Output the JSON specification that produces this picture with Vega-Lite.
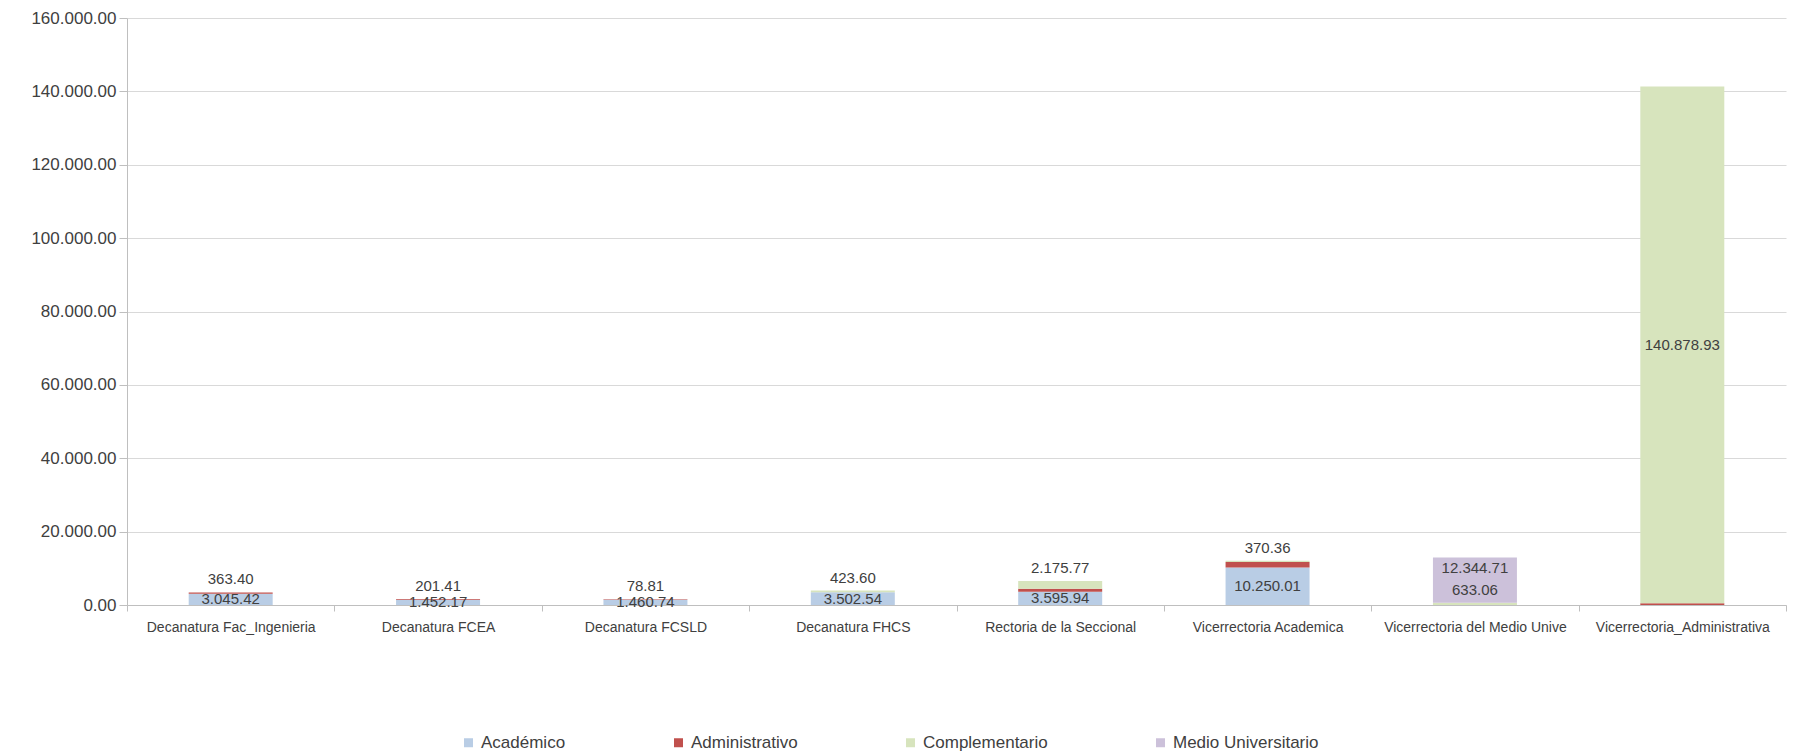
{
  "$schema": "https://vega.github.io/schema/vega-lite/v6.json",
  "width": 1659,
  "height": 587,
  "autosize": {"type": "none"},
  "padding": {"left": 127, "top": 18, "right": 13, "bottom": 148},
  "config": {
    "locale": {"number": {"decimal": ".", "thousands": ".", "grouping": [3], "currency": ["", ""]}},
    "view": {"stroke": null},
    "font": "Liberation Sans"
  },
  "data": {
    "values": [
      {"category": "Decanatura Fac_Ingenieria", "series": "Académico", "value": 3045.42},
      {"category": "Decanatura Fac_Ingenieria", "series": "Administrativo", "value": 363.40},
      {"category": "Decanatura FCEA", "series": "Académico", "value": 1452.17},
      {"category": "Decanatura FCEA", "series": "Administrativo", "value": 201.41},
      {"category": "Decanatura FCSLD", "series": "Académico", "value": 1460.74},
      {"category": "Decanatura FCSLD", "series": "Administrativo", "value": 78.81},
      {"category": "Decanatura FHCS", "series": "Académico", "value": 3502.54},
      {"category": "Decanatura FHCS", "series": "Complementario", "value": 423.60},
      {"category": "Rectoria de la Seccional", "series": "Académico", "value": 3595.94},
      {"category": "Rectoria de la Seccional", "series": "Administrativo", "value": 800},
      {"category": "Rectoria de la Seccional", "series": "Complementario", "value": 2175.77},
      {"category": "Vicerrectoria Academica", "series": "Académico", "value": 10250.01},
      {"category": "Vicerrectoria Academica", "series": "Administrativo", "value": 1450},
      {"category": "Vicerrectoria Academica", "series": "Complementario", "value": 370.36},
      {"category": "Vicerrectoria del Medio Unive", "series": "Complementario", "value": 633.06},
      {"category": "Vicerrectoria del Medio Unive", "series": "Medio Universitario", "value": 12344.71},
      {"category": "Vicerrectoria_Administrativa", "series": "Administrativo", "value": 450},
      {"category": "Vicerrectoria_Administrativa", "series": "Complementario", "value": 140878.93}
    ]
  },
  "transform": [
    {"stack": "value", "groupby": ["category"], "sort": [{"field": "series"}], "as": ["y0", "y1"]},
    {"calculate": "(datum.y0 + datum.y1) / 2", "as": "ymid"}
  ],
  "encoding": {
    "x": {
      "field": "category",
      "type": "nominal",
      "sort": null,
      "title": null,
      "scale": {"paddingInner": 0, "paddingOuter": 0},
      "axis": {
        "labelAngle": 0,
        "labelFontSize": 14,
        "labelColor": "#404040",
        "labelPadding": 9,
        "tickBand": "extent",
        "tickSize": 6,
        "tickColor": "#BFBFBF",
        "domainColor": "#BFBFBF",
        "grid": false,
        "labelLimit": 300
      }
    }
  },
  "layer": [
    {
      "mark": {"type": "bar", "width": {"band": 0.405}},
      "encoding": {
        "y": {
          "field": "y0",
          "type": "quantitative",
          "title": null,
          "scale": {"domain": [0, 160000], "nice": false},
          "axis": {
            "values": [0, 20000, 40000, 60000, 80000, 100000, 120000, 140000, 160000],
            "format": ",.2f",
            "labelFontSize": 17,
            "labelColor": "#404040",
            "labelPadding": 3,
            "tickSize": 8,
            "tickColor": "#BFBFBF",
            "domainColor": "#BFBFBF",
            "gridColor": "#D9D9D9"
          }
        },
        "y2": {"field": "y1"},
        "color": {
          "field": "series",
          "type": "nominal",
          "scale": {
            "domain": ["Académico", "Administrativo", "Complementario", "Medio Universitario"],
            "range": ["#B9CDE5", "#C0504D", "#D7E4BD", "#CCC1DA"]
          },
          "legend": {
            "title": null,
            "orient": "none",
            "legendX": 333,
            "legendY": 716,
            "direction": "horizontal",
            "symbolType": "square",
            "symbolSize": 81,
            "symbolStrokeWidth": 0,
            "labelFontSize": 17,
            "labelColor": "#404040",
            "columnPadding": 104,
            "labelOffset": 4
          }
        }
      }
    },
    {
      "transform": [{"filter": "datum.series == 'Académico' || datum.value > 100000"}],
      "mark": {"type": "text", "fontSize": 15, "color": "#404040", "baseline": "middle"},
      "encoding": {
        "y": {"field": "ymid", "type": "quantitative", "title": null},
        "text": {"field": "value", "type": "quantitative", "format": ",.2f"}
      }
    },
    {
      "transform": [{"filter": "(datum.series == 'Administrativo' && datum.value < 400) || (datum.series == 'Complementario' && datum.value < 100000)"}],
      "mark": {"type": "text", "fontSize": 15, "color": "#404040", "baseline": "middle", "dy": -13},
      "encoding": {
        "y": {"field": "y1", "type": "quantitative", "title": null},
        "text": {"field": "value", "type": "quantitative", "format": ",.2f"}
      }
    },
    {
      "transform": [{"filter": "datum.series == 'Medio Universitario'"}],
      "mark": {"type": "text", "fontSize": 15, "color": "#404040", "baseline": "middle", "dy": 11},
      "encoding": {
        "y": {"field": "y1", "type": "quantitative", "title": null},
        "text": {"field": "value", "type": "quantitative", "format": ",.2f"}
      }
    }
  ]
}
